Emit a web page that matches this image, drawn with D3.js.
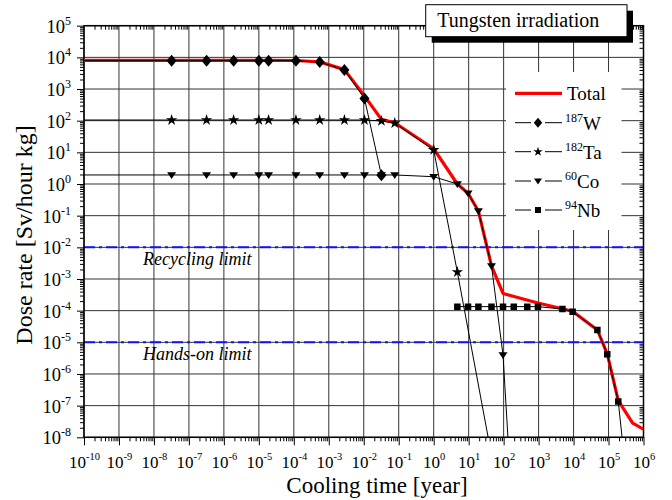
<!DOCTYPE html>
<html><head><meta charset="utf-8">
<script src="https://cdn.jsdelivr.net/npm/d3@7"></script>
<style>
body{margin:0;background:#fff}
svg{display:block}
text{font-family:"Liberation Serif","Times New Roman",serif;fill:#000}
</style>
</head><body>
<svg id="c" width="672" height="500"></svg>
<script>
// ---------- data ----------
const xTicks = [1e-10,1e-9,1e-8,1e-7,1e-6,1e-5,1e-4,1e-3,1e-2,1e-1,1e0,1e1,1e2,1e3,1e4,1e5,1e6];
const yTicks = [1e-8,1e-7,1e-6,1e-5,1e-4,1e-3,1e-2,1e-1,1e0,1e1,1e2,1e3,1e4,1e5];

const timeTotal = [1e-11,3.2e-8,3.2e-7,1.9e-6,1e-5,1.9e-5,1.15e-4,5.5e-4,2.8e-3,1.05e-2,3.2e-2,7.7e-2,1.0,4.75,9.6,19,45,96,960,4.8e3,9.4e3,4.8e4,9.2e4,1.9e5,4.9e5,1e6];
const doseTotal = [8.0e3,8.0e3,8.0e3,8.0e3,8.0e3,8.0e3,7.95e3,7.2e3,4.1e3,6.0e2,1.1e2,86,13,1.0,0.51,0.14,2.6e-3,3.5e-4,1.75e-4,1.15e-4,9.5e-5,2.45e-5,4.3e-6,1.45e-7,2.8e-8,1.8e-8];

const timeW = [1e-11,3.2e-8,3.2e-7,1.9e-6,1e-5,1.9e-5,1.15e-4,5.5e-4,2.8e-3,1.05e-2,3.2e-2];
const doseW = [7.85e3,7.85e3,7.85e3,7.85e3,7.85e3,7.85e3,7.85e3,7.1e3,4.0e3,5.0e2,1.9];

const timeTa = [1e-11,3.2e-8,3.2e-7,1.9e-6,1e-5,1.9e-5,1.15e-4,5.5e-4,2.8e-3,1.05e-2,3.2e-2,7.7e-2,1.0,4.75,45];
const doseTa = [105,105,105,105,105,105,105,105,105,105,98,84,11.9,1.66e-3,2.7e-9];

const timeCo = [1e-11,3.2e-8,3.2e-7,1.9e-6,1e-5,1.9e-5,1.15e-4,5.5e-4,2.8e-3,1.05e-2,3.2e-2,7.7e-2,1.0,4.75,9.6,19,45,96,195];
const doseCo = [1.93,1.93,1.93,1.93,1.93,1.93,1.93,1.93,1.93,1.93,1.93,1.93,1.7,1.0,0.51,0.14,2.6e-3,4.0e-6,8e-12];

const timeNb = [4.75,9.6,19,45,96,195,475,960,4.8e3,9.4e3,4.8e4,9.2e4,1.9e5,4.9e5];
const doseNb = [1.34e-4,1.34e-4,1.34e-4,1.34e-4,1.34e-4,1.34e-4,1.34e-4,1.34e-4,1.12e-4,9.3e-5,2.45e-5,4.2e-6,1.35e-7,7e-12];

const limitValues = [1e-2, 1e-5];
const limitLabels = ["Recycling limit", "Hands-on limit"];
const legendLabels = [["","Total"],["187","W"],["182","Ta"],["60","Co"],["94","Nb"]];

// ---------- layout ----------
const FONT = "'Liberation Serif','Times New Roman',serif";
const L = 84, R = 643.5, T = 25.7, B = 437.3;
const svg = d3.select("#c");
const x = d3.scaleLog().domain([1e-10,1e6]).range([L,R]);
const y = d3.scaleLog().domain([1e-8,1e5]).range([B,T]);

const minorX = [], minorY = [];
for (let k=-10;k<6;k++) for (let m=2;m<10;m++) minorX.push(m*Math.pow(10,k));
for (let k=-8;k<5;k++) for (let m=2;m<10;m++) minorY.push(m*Math.pow(10,k));

// symbols
const symDiamond = {draw(c,s){const w=s*0.42,h=s*0.5;c.moveTo(0,-h);c.lineTo(w,0);c.lineTo(0,h);c.lineTo(-w,0);c.closePath();}};
const symTri = {draw(c,s){const w=s*0.5;c.moveTo(-w,-s*0.3);c.lineTo(w,-s*0.3);c.lineTo(0,s*0.45);c.closePath();}};
const symSquare = {draw(c,s){const h=s/2;c.rect(-h,-h,s,s);}};
const symStar = {draw(c,s){ d3.symbolStar.draw(c, s*s*0.45); }};

// grid
const grid = svg.append("g").attr("stroke","#333").attr("stroke-width",1);
grid.selectAll("line.v").data(xTicks).join("line").attr("class","v")
  .attr("x1",d=>x(d)).attr("x2",d=>x(d)).attr("y1",T).attr("y2",B);
grid.selectAll("line.h").data(yTicks).join("line").attr("class","h")
  .attr("y1",d=>y(d)).attr("y2",d=>y(d)).attr("x1",L).attr("x2",R);

// limits
svg.append("g").selectAll("line").data(limitValues).join("line")
  .attr("x1",L).attr("x2",R).attr("y1",d=>y(d)).attr("y2",d=>y(d))
  .attr("stroke","#1010ff").attr("stroke-width",2).attr("stroke-dasharray","11,4,3,4");
svg.append("g").selectAll("text").data(limitValues).join("text")
  .attr("x",143).attr("y",d=>y(d)+17.5).attr("font-size",18).attr("font-style","italic")
  .text((d,i)=>limitLabels[i]);

// legend background
svg.append("rect").attr("x",506).attr("y",72).attr("width",115.5).attr("height",158).attr("fill","#fff");

// axes
function supLabel(sel, es, dyE){
  sel.each(function(d){
    const t=d3.select(this); t.text(null);
    t.append("tspan").text("10");
    t.append("tspan").attr("dy",-dyE).attr("font-size",es).text(Math.round(Math.log10(d)));
  });
}
const gx = svg.append("g").attr("transform",`translate(0,${B})`)
  .call(d3.axisBottom(x).tickValues(xTicks).tickSize(8).tickSizeOuter(0));
gx.attr("font-family",null);
gx.select(".domain").remove();
gx.selectAll(".tick line").attr("stroke","#000");
gx.selectAll(".tick text").attr("y",30.5).attr("dy",null).attr("font-size",17)
  .attr("fill","#000").call(supLabel,10.5,8);

const gy = svg.append("g").attr("transform",`translate(${L},0)`)
  .call(d3.axisLeft(y).tickValues(yTicks).tickSize(7).tickSizeOuter(0));
gy.attr("font-family",null);
gy.select(".domain").remove();
gy.selectAll(".tick line").attr("stroke","#000");
gy.selectAll(".tick text").attr("x",-13).attr("y",6.5).attr("dy",null).attr("font-size",18.5)
  .attr("fill","#000").call(supLabel,12,8);

function minor(g){ g.select(".domain").remove(); g.selectAll(".tick line").attr("stroke","#000"); g.selectAll("text").remove(); }
svg.append("g").attr("transform",`translate(0,${B})`).call(d3.axisBottom(x).tickValues(minorX).tickSize(4)).call(minor);
svg.append("g").attr("transform",`translate(0,${T})`).call(d3.axisTop(x).tickValues(minorX).tickSize(-4)).call(minor);
svg.append("g").attr("transform",`translate(${L},0)`).call(d3.axisLeft(y).tickValues(minorY).tickSize(4)).call(minor);
svg.append("g").attr("transform",`translate(${R},0)`).call(d3.axisRight(y).tickValues(minorY).tickSize(-4)).call(minor);

// frame
svg.append("rect").attr("x",L).attr("y",T).attr("width",R-L).attr("height",B-T)
  .attr("fill","none").attr("stroke","#000").attr("stroke-width",1.5);

// data
svg.append("defs").append("clipPath").attr("id","clip").append("rect")
  .attr("x",L).attr("y",T).attr("width",R-L).attr("height",B-T);
const plot = svg.append("g").attr("clip-path","url(#clip)");
const line = d3.line().x(d=>x(d[0])).y(d=>y(d[1]));
const zip = (a,b)=>a.map((t,i)=>[t,b[i]]);

plot.append("path").datum(zip(timeTotal,doseTotal)).attr("d",line)
  .attr("fill","none").attr("stroke","#ff0000").attr("stroke-width",3.2).attr("stroke-linejoin","round");

const series = [
  {t:timeW,v:doseW,sym:symDiamond,size:12},
  {t:timeTa,v:doseTa,sym:symStar,size:9.5},
  {t:timeCo,v:doseCo,sym:symTri,size:9},
  {t:timeNb,v:doseNb,sym:symSquare,size:6.5}
];
series.forEach(s=>{
  const pts = zip(s.t,s.v);
  plot.append("path").datum(pts).attr("d",line).attr("fill","none").attr("stroke","#000").attr("stroke-width",1);
  plot.append("g").selectAll("path").data(pts).join("path")
    .attr("transform",d=>`translate(${x(d[0])},${y(d[1])})`)
    .attr("d",d3.symbol().type(s.sym).size(s.size)).attr("fill","#000");
});

// legend
const lg = svg.append("g");
const rowsY = [93.3,122.7,151.7,181,210];
const legSyms = [null,[symDiamond,10],[symStar,8],[symTri,8],[symSquare,6]];
legendLabels.forEach((lab,i)=>{
  const yy = rowsY[i];
  if(i===0){
    lg.append("line").attr("x1",515).attr("x2",562).attr("y1",yy).attr("y2",yy).attr("stroke","#ff0000").attr("stroke-width",3.2);
  } else {
    lg.append("line").attr("x1",515).attr("x2",531).attr("y1",yy).attr("y2",yy).attr("stroke","#000");
    lg.append("line").attr("x1",545).attr("x2",562).attr("y1",yy).attr("y2",yy).attr("stroke","#000");
    lg.append("path").attr("transform",`translate(538,${yy})`).attr("d",d3.symbol().type(legSyms[i][0]).size(legSyms[i][1])).attr("fill","#000");
  }
  const t = lg.append("text").attr("x",lab[0]?565:567).attr("y",yy+7).attr("font-size",19);
  if(lab[0]) t.append("tspan").attr("font-size",12).attr("dy",-8).text(lab[0]);
  t.append("tspan").attr("dy",lab[0]?8:0).text(lab[1]);
});

// title box
svg.append("rect").attr("x",431.7).attr("y",10.7).attr("width",201.3).attr("height",32).attr("fill","#000");
svg.append("rect").attr("x",425.7).attr("y",4.7).attr("width",201.3).attr("height",32).attr("fill","#fff").attr("stroke","#000").attr("stroke-width",1);
svg.append("text").attr("x",437.3).attr("y",27.3).attr("font-size",20).text("Tungsten irradiation");

// axis titles
svg.append("text").attr("x",377).attr("y",492.5).attr("text-anchor","middle").attr("font-size",23).text("Cooling time [year]");
svg.append("text").attr("transform","translate(32,235) rotate(-90)").attr("text-anchor","middle").attr("font-size",24).text("Dose rate [Sv/hour kg]");

svg.selectAll("text").style("font-family",FONT);
</script>
</body></html>
